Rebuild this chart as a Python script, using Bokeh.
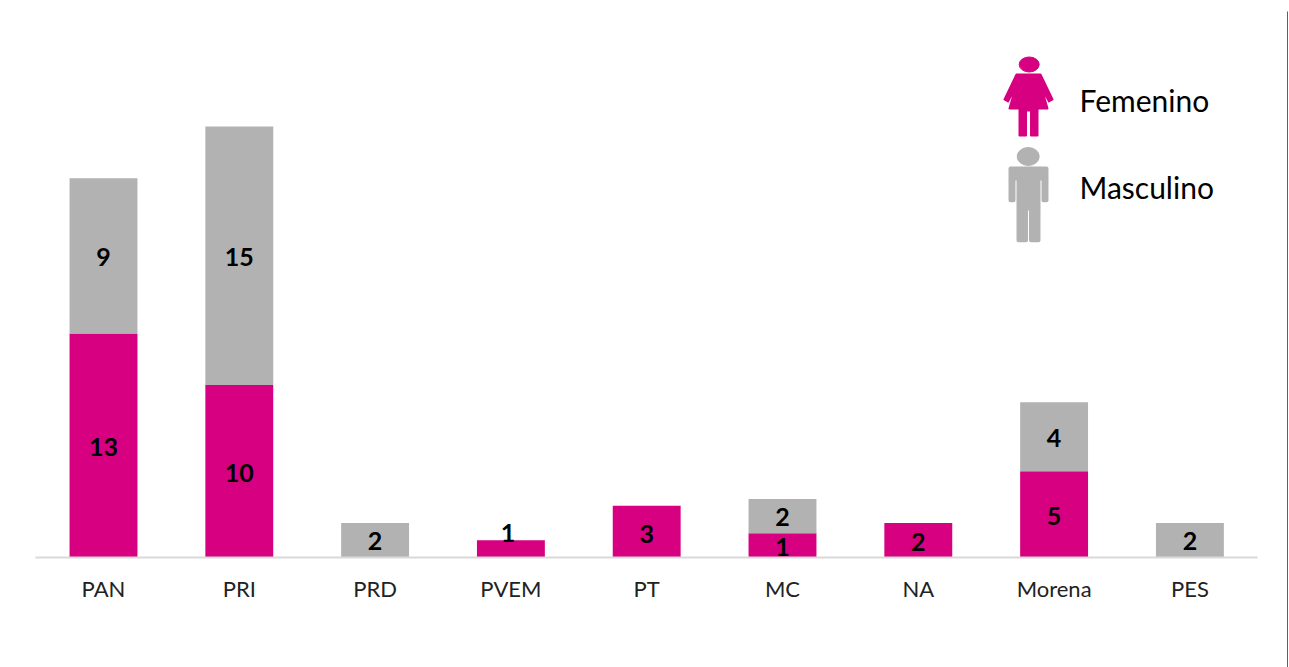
from bokeh.plotting import figure
from bokeh.models import ColumnDataSource, Range1d, FixedTicker
from bokeh.core.properties import value
from bokeh.embed import file_html
from bokeh.resources import INLINE

partidos = ["PAN", "PRI", "PRD", "PVEM", "PT", "MC", "NA", "Morena", "PES"]
femenino = [13, 10, 0, 1, 3, 1.4, 2, 5, 0]      # heights as drawn (MC's bar is taller than its label)
masculino = [9, 15, 2, 0, 0, 2, 0, 4, 2]
femenino_labels = ["13", "10", "", "1", "3", "1", "2", "5", ""]
masculino_labels = ["9", "15", "2", "", "", "2", "", "4", "2"]
series_names = ["Femenino", "Masculino"]
colors = ["#D60080", "#B2B2B2"]

FONT = "Lato"
W, H = 1289, 667
YSCALE = 17.24      # pixels per unit
XSCALE = 135.8      # pixels per category
BASE_Y = 557        # page y of the zero line
FIRST_X = 103       # page x of the first category
pos = list(range(len(partidos)))

p = figure(width=W, height=H, output_backend="svg", toolbar_location=None,
           x_range=Range1d(-FIRST_X / XSCALE, (W - FIRST_X) / XSCALE),
           y_range=Range1d(-(H - BASE_Y) / YSCALE, BASE_Y / YSCALE),
           min_border=0)
p.outline_line_color = None
p.grid.visible = False
p.yaxis.visible = False
p.background_fill_color = "white"
p.border_fill_color = "white"

ax = p.xaxis[0]
ax.fixed_location = 0
ax.bounds = (-0.5, len(partidos) - 0.5)
ax.ticker = FixedTicker(ticks=pos)
ax.major_label_overrides = dict(zip(pos, partidos))
ax.axis_line_color = "#D9D9D9"
ax.axis_line_width = 2
ax.major_tick_line_color = None
ax.minor_tick_line_color = None
ax.major_label_standoff = 11
ax.major_label_text_font = FONT
ax.major_label_text_font_size = "22px"
ax.major_label_text_color = "#222222"

src = ColumnDataSource(dict(x=pos, Femenino=femenino, Masculino=masculino))
p.vbar_stack(series_names, x="x", width=0.5, source=src, color=colors, line_color=None)

# Data labels (zero segments carry no label)
lx, ly, lt, xoff, yoff = [], [], [], [], []
for i, name, f, m, fl, ml in zip(pos, partidos, femenino, masculino, femenino_labels, masculino_labels):
    if fl:
        lx.append(i); ly.append(f / 2); lt.append(fl)
        xoff.append(-3 if name == "PVEM" else 0)
        yoff.append(-16 if name == "PVEM" else 2)
    if ml:
        lx.append(i); ly.append(f + m / 2); lt.append(ml)
        xoff.append(0); yoff.append(1)
p.text(x=lx, y=ly, text=lt, x_offset=xoff, y_offset=yoff,
       text_font=value(FONT), text_font_style="bold", text_font_size="25px",
       text_color="black", text_align="center", text_baseline="middle")

# Pictogram legend and page rule, placed in page pixels through their own ranges
p.extra_x_ranges["page_x"] = Range1d(0, W)
p.extra_y_ranges["page_y"] = Range1d(H, 0)
kw = dict(x_range_name="page_x", y_range_name="page_y")

woman_x = [1016, 1040, 1052, 1048.5, 1041, 1047, 1037, 1037, 1030.5, 1030.5, 1025.5, 1025.5,
           1019, 1019, 1009, 1015, 1007.5, 1004, 1016]
woman_y = [74, 74, 99, 101, 87, 108, 108, 135, 135, 110, 110, 135, 135, 108, 108, 87, 101, 99, 74]
p.ellipse(x=[1028.7], y=[64], width=[20], height=[15], color=colors[0], **kw)
p.patch(woman_x, woman_y, fill_color=colors[0], line_color=colors[0], line_width=2,
        line_join="round", **kw)

man_x = [1010, 1046, 1046, 1043, 1043, 1038, 1038, 1030.5, 1030.5, 1025.5, 1025.5,
         1018, 1018, 1013, 1013, 1010, 1010]
man_y = [168, 168, 199.7, 199.7, 178, 178, 239.7, 239.7, 208, 208, 239.7,
         239.7, 178, 178, 199.7, 199.7, 168]
p.ellipse(x=[1027.7], y=[156], width=[22], height=[18], color=colors[1], **kw)
p.patch(man_x, man_y, fill_color=colors[1], line_color=colors[1], line_width=4,
        line_join="round", **kw)

p.text(x=[1079, 1079], y=[99, 186], text=series_names,
       text_font=value(FONT), text_font_size="30px", text_color="black",
       text_align="left", text_baseline="middle", **kw)

# Thin rule at the right edge
p.quad(left=[1286.5], right=[1287.5], top=[11], bottom=[H], fill_color="#2E6DA4", line_color=None, **kw)

open("out.html", "w").write(file_html(p, INLINE))
